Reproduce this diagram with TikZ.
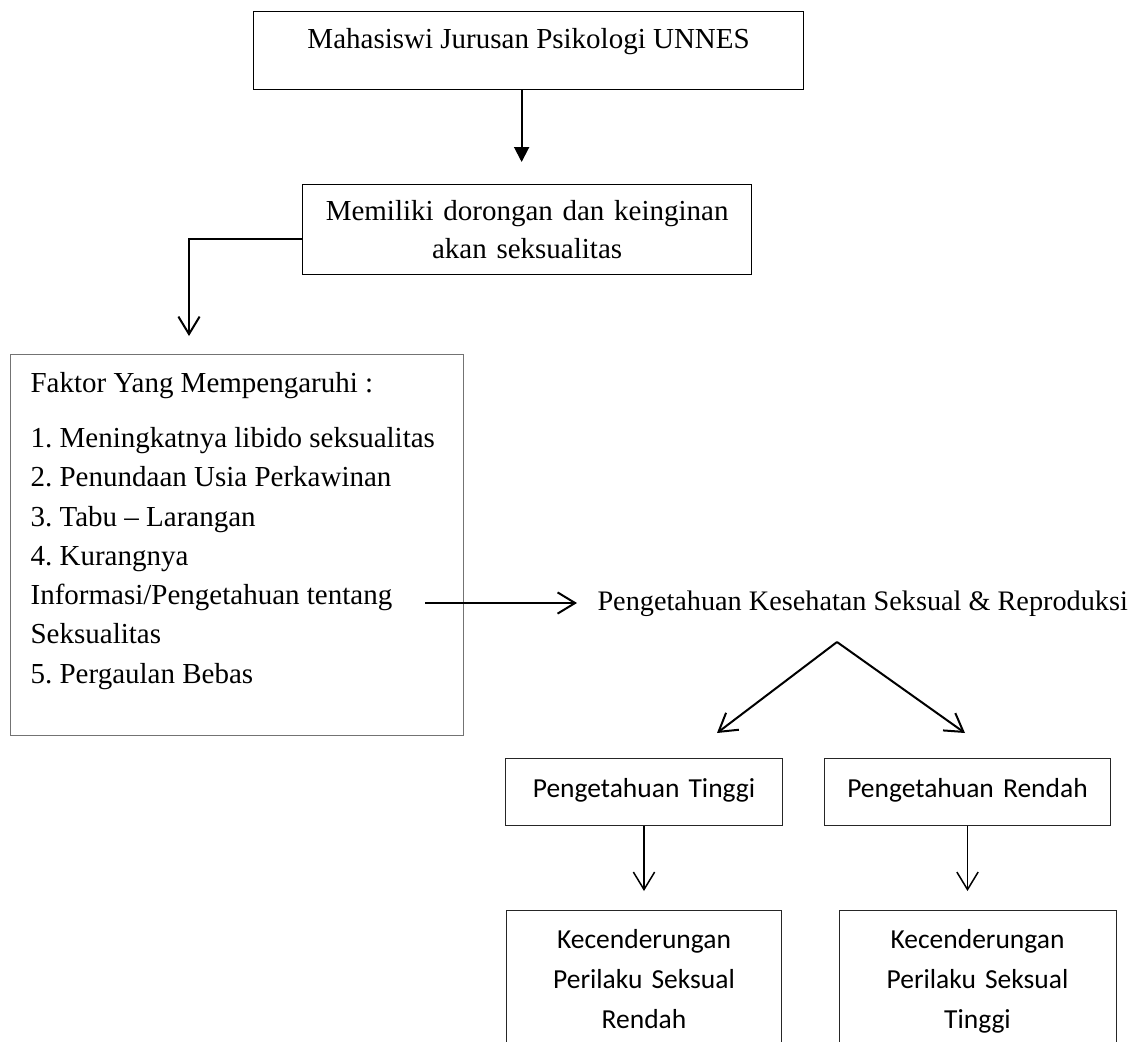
\documentclass[tikz,border=0pt]{standalone}
\usepackage{fontspec}
\setmainfont{Liberation Serif}
\newfontfamily\calibri{Carlito}
\usetikzlibrary{positioning,arrows.meta,calc}
\frenchspacing

\begin{document}
\begin{tikzpicture}[
  x=0.4pt, y=-0.4pt,
  font=\fontsize{11.6}{15.5}\selectfont,
  box/.style={draw, line width=0.5pt, inner sep=0pt, anchor=north west},
  cbox/.style={draw=black!85, line width=0.4pt, inner sep=0pt, align=center,
    font=\calibri\fontsize{11}{16}\selectfont},
  arr/.style={line width=0.8pt, -{Straight Barb[length=7pt,width=8.5pt]}},
  thinarr/.style={line width=0.6pt, -{Straight Barb[length=7pt,width=8.5pt]}},
  fillarr/.style={line width=0.8pt, -{Triangle[length=6pt,width=6pt]}}
]
\clip (0,0) rectangle (1134,1041);
% atas
\node[box, minimum width=220pt, text height=14.8pt, text depth=16.4pt] (mhs) at (253,11)
  {Mahasiswi Jurusan Psikologi UNNES};
\node[box, text width=179.6pt, align=center, text height=14.4pt, text depth=21.6pt,
  font=\fontsize{11.6}{15.2}\selectfont] (mem) at (302,184)
  {Memiliki dorongan dan keinginan\\ akan seksualitas};
\node[box, draw=black!55, inner xsep=8pt, text width=165.2pt, align=flush left,
  text height=15.2pt, text depth=137.2pt, font=\fontsize{11.6}{15.7}\selectfont] (fak) at (10,354)
  {Faktor Yang Mempengaruhi :\\[6.3pt]
   1. Meningkatnya libido seksualitas\\
   2. Penundaan Usia Perkawinan\\
   3. Tabu -- Larangan\\
   4. Kurangnya\\
   Informasi/Pengetahuan tentang\\
   Seksualitas\\
   5. Pergaulan Bebas};
\node[anchor=base west, inner sep=0pt, font=\fontsize{11.3}{13}\selectfont] (pks) at (597,610)
  {Pengetahuan Kesehatan Seksual \& Reproduksi};
% bawah
\node[cbox, anchor=north west, text width=110.8pt, text height=15.6pt, text depth=11.2pt] (ptg) at (505,758)
  {Pengetahuan Tinggi};
\node[cbox, text width=114.4pt, text height=15.6pt, text depth=11.2pt, right=16.4pt of ptg] (prd)
  {Pengetahuan Rendah};
\node[cbox, text width=110pt, text height=15.2pt, text depth=45.2pt, below=33.6pt of ptg] (kpr)
  {Kecenderungan\\ Perilaku Seksual\\ Rendah};
\node[cbox, text width=110.8pt, text height=15.2pt, text depth=45.2pt, below=33.6pt of prd, xshift=4pt] (kpt)
  {Kecenderungan\\ Perilaku Seksual\\ Tinggi};

\coordinate (m-out) at ($(mem.south west)!0.4!(mem.north west)$);
\coordinate (f-out) at (425,603);
\coordinate (apex) at (837,642);
\coordinate (tip-l) at (717,733);
\coordinate (tip-r) at (965,733);

\draw[fillarr, shorten >=8.8pt] ([xshift=-2.8pt]mhs.south) -- ([xshift=-2.8pt]mhs.south |- mem.north);
\draw[arr, shorten >=7.2pt] (m-out) -| ([xshift=71.6pt]fak.north west);
\draw[arr, shorten >=8pt] (f-out) -- (f-out -| pks.west);
\draw[arr] (apex) -- (tip-l);
\draw[arr] (apex) -- (tip-r);
\draw[thinarr, shorten >=7.6pt] (ptg.south) -- (ptg.south |- kpr.north);
\draw[thinarr, shorten >=7.6pt] (prd.south) -- (prd.south |- kpt.north);
\end{tikzpicture}
\end{document}
